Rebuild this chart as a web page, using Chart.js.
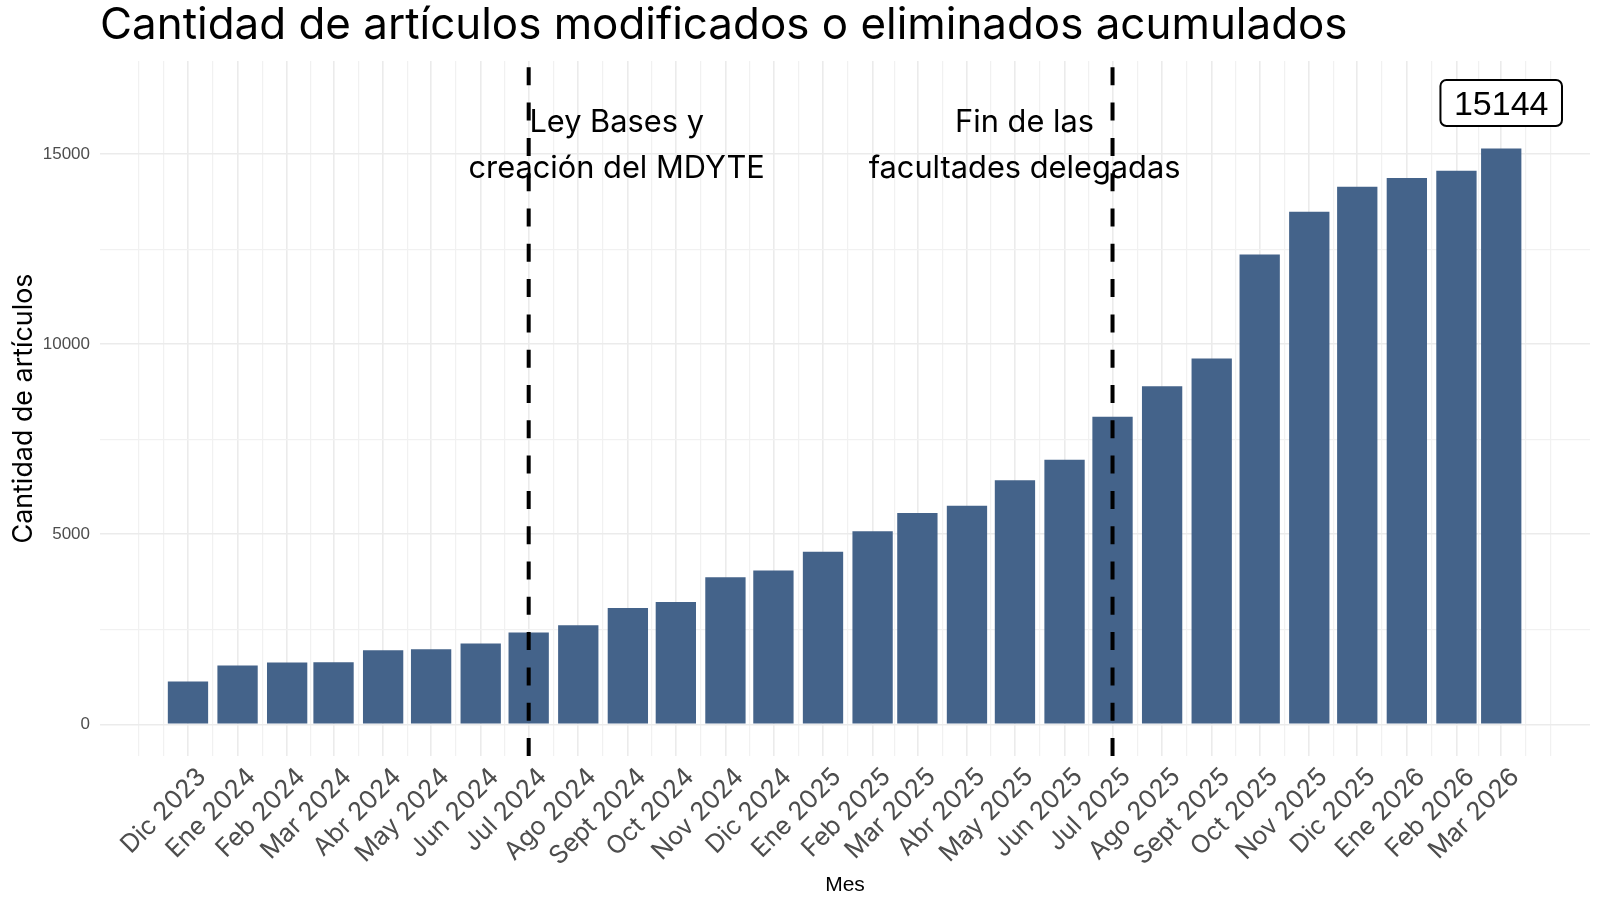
<!DOCTYPE html>
<html>
<head>
<meta charset="utf-8">
<script src="https://cdn.jsdelivr.net/npm/chart.js@4.4.1/dist/chart.umd.min.js"></script>
<style>
  html, body { margin: 0; padding: 0; background: #ffffff; }
  #chart { display: block; }
</style>
</head>
<body>
<canvas id="chart" width="1600" height="908"></canvas>
<script>
// ---- data ----
const monthLabels = [
  "Dic 2023", "Ene 2024", "Feb 2024", "Mar 2024", "Abr 2024", "May 2024", "Jun 2024",
  "Jul 2024", "Ago 2024", "Sept 2024", "Oct 2024", "Nov 2024", "Dic 2024", "Ene 2025",
  "Feb 2025", "Mar 2025", "Abr 2025", "May 2025", "Jun 2025", "Jul 2025", "Ago 2025",
  "Sept 2025", "Oct 2025", "Nov 2025", "Dic 2025", "Ene 2026", "Feb 2026", "Mar 2026"
];
const monthDates = [
  "2023-12-01", "2024-01-01", "2024-02-01", "2024-03-01", "2024-04-01", "2024-05-01", "2024-06-01",
  "2024-07-01", "2024-08-01", "2024-09-01", "2024-10-01", "2024-11-01", "2024-12-01", "2025-01-01",
  "2025-02-01", "2025-03-01", "2025-04-01", "2025-05-01", "2025-06-01", "2025-07-01", "2025-08-01",
  "2025-09-01", "2025-10-01", "2025-11-01", "2025-12-01", "2026-01-01", "2026-02-01", "2026-03-01"
];
const articleCounts = [
  1130, 1550, 1630, 1635, 1950, 1975, 2130,
  2420, 2605, 3060, 3220, 3870, 4050, 4540,
  5080, 5560, 5750, 6420, 6960, 8090, 8890,
  9620, 12360, 13480, 14140, 14370, 14560, 15144
];
const yMajorTicks = [0, 5000, 10000, 15000];
const yMinorTicks = [2500, 7500, 12500];

const eventDates = ["2024-07-01", "2025-07-01"];
const eventTextDates = ["2024-08-25", "2025-05-07"];
const eventTexts = [["Ley Bases y", "creación del MDYTE"], ["Fin de las", "facultades delegadas"]];
const eventTextY = 15250;

const lastLabelDate = "2026-03-01";
const lastLabelY = 16342;
const lastLabelText = "15144";

const TITLE = "Cantidad de artículos modificados o eliminados acumulados";

// ---- helpers ----
const SANS = '"Inter", "Noto Sans", sans-serif';
const ARIAL = '"Liberation Sans", Arial, sans-serif';
const BAR_COLOR = "#44638a";
const GRID_MAJOR = "#ebebeb";
const GRID_MINOR = "#f1f1f1";

const t0 = Date.parse(monthDates[0]);
const dayOf = d => (Date.parse(d) - t0) / 86400000;
const monthDays = monthDates.map(dayOf);

const measureCtx = document.createElement("canvas").getContext("2d");
function fitSize(text, family, width) {
  measureCtx.font = `100px ${family}`;
  return 100 * width / measureCtx.measureText(text).width;
}

const titleSize = fitSize(TITLE, SANS, 1248);
const yTitleSize = fitSize("Cantidad de artículos", SANS, 270);
const annoSize = fitSize("facultades delegadas", SANS, 312);
const xTickSize = fitSize("Mar 2026", SANS, 116);

// ggplot-like grid: a line per month plus midpoints, extended one step each side
function xGridTicks() {
  const step = monthDays[1] - monthDays[0];
  const ext = [monthDays[0] - step, ...monthDays, monthDays[monthDays.length - 1] + step];
  const ticks = [];
  ext.forEach((d, i) => {
    if (i > 0) ticks.push({ value: (ext[i - 1] + d) / 2, minor: true });
    ticks.push({ value: d, minor: i === 0 || i === ext.length - 1 });
  });
  return ticks;
}

const annotations = {
  id: "annotations",
  afterDatasetsDraw(chart) {
    const { ctx, chartArea, scales: { x, y } } = chart;
    ctx.save();

    // dashed event lines, pattern starting from the bottom like ggplot
    ctx.strokeStyle = "#000000";
    ctx.lineWidth = 4;
    ctx.setLineDash([18, 17.3]);
    eventDates.forEach(d => {
      const px = x.getPixelForValue(dayOf(d));
      ctx.beginPath();
      ctx.moveTo(px, chartArea.bottom);
      ctx.lineTo(px, chartArea.top);
      ctx.stroke();
    });
    ctx.setLineDash([]);

    // event texts
    ctx.fillStyle = "#000000";
    ctx.font = `${annoSize}px ${SANS}`;
    ctx.textAlign = "center";
    ctx.textBaseline = "alphabetic";
    eventTexts.forEach((lines, i) => {
      const px = x.getPixelForValue(dayOf(eventTextDates[i]));
      const py = y.getPixelForValue(eventTextY);
      lines.forEach((line, j) => {
        ctx.fillText(line, px, py - 0.41 * annoSize + j * 1.5 * annoSize);
      });
    });

    // label on the last bar
    const size = 34;
    ctx.font = `${size}px ${ARIAL}`;
    const w = ctx.measureText(lastLabelText).width + 27;
    const h = 46;
    const cx = x.getPixelForValue(dayOf(lastLabelDate));
    const cy = y.getPixelForValue(lastLabelY);
    ctx.beginPath();
    ctx.roundRect(cx - w / 2, cy - h / 2, w, h, 6);
    ctx.fillStyle = "#ffffff";
    ctx.fill();
    ctx.lineWidth = 2;
    ctx.strokeStyle = "#000000";
    ctx.stroke();
    ctx.fillStyle = "#000000";
    ctx.fillText(lastLabelText, cx, cy + 0.358 * size);

    ctx.restore();
  },
  afterDraw(chart) {
    const { ctx } = chart;
    ctx.save();
    ctx.fillStyle = "#000000";
    ctx.font = `${titleSize}px ${SANS}`;
    ctx.textAlign = "left";
    ctx.textBaseline = "alphabetic";
    ctx.fillText(TITLE, 100, 39);
    ctx.restore();
  }
};

new Chart(document.getElementById("chart"), {
  type: "bar",
  data: {
    datasets: [{
      data: monthDays.map((d, i) => ({ x: d, y: articleCounts[i] })),
      backgroundColor: BAR_COLOR,
      borderWidth: 0,
      // the ruler takes the half-month grid ticks as its step (14 days),
      // so 1.8 gives 0.9 of the shortest month, like geom_col
      barPercentage: 1.8,
      categoryPercentage: 1
    }]
  },
  options: {
    responsive: false,
    animation: false,
    devicePixelRatio: 1,
    layout: { padding: { top: 61, right: 10, left: 0, bottom: 0 } },
    plugins: {
      legend: { display: false },
      tooltip: { enabled: false }
    },
    scales: {
      x: {
        type: "linear",
        min: -55,
        max: 876.5,
        offset: false,
        border: { display: false },
        grid: {
          offset: false,
          drawTicks: false,
          color: c => (c.tick && c.tick.minor ? GRID_MINOR : GRID_MAJOR),
          lineWidth: c => (c.tick && c.tick.minor ? 1.2 : 1.6)
        },
        afterBuildTicks: scale => { scale.ticks = xGridTicks(); },
        afterFit: scale => { scale.height = 152; },
        ticks: {
          autoSkip: false,
          minRotation: 45,
          maxRotation: 45,
          padding: 6,
          labelOffset: 14,
          color: "#4d4d4d",
          font: { family: SANS, size: xTickSize },
          callback: v => {
            const i = monthDays.indexOf(v);
            return i >= 0 ? monthLabels[i] : "";
          }
        },
        title: {
          display: true,
          text: "Mes",
          color: "#000000",
          font: { family: ARIAL, size: 21, lineHeight: 1 },
          padding: { top: 0, bottom: 12.5 }
        }
      },
      y: {
        min: -831,
        max: 17447,
        border: { display: false },
        grid: {
          drawTicks: false,
          color: c => (c.tick && c.tick.minor ? GRID_MINOR : GRID_MAJOR),
          lineWidth: c => (c.tick && c.tick.minor ? 1.2 : 1.6)
        },
        afterBuildTicks: scale => {
          scale.ticks = [...yMajorTicks, ...yMinorTicks]
            .sort((a, b) => a - b)
            .map(v => ({ value: v, minor: !yMajorTicks.includes(v) }));
        },
        afterFit: scale => { scale.width = 100; },
        ticks: {
          padding: 10,
          color: "#4d4d4d",
          font: { family: ARIAL, size: 17 },
          callback: v => (yMajorTicks.includes(v) ? String(v) : "")
        },
        title: {
          display: true,
          text: "Cantidad de artículos",
          color: "#000000",
          font: { family: SANS, size: yTitleSize, lineHeight: 1 },
          padding: { top: 24 - yTitleSize / 2, bottom: 0 }
        }
      }
    }
  },
  plugins: [annotations]
});
</script>
</body>
</html>
